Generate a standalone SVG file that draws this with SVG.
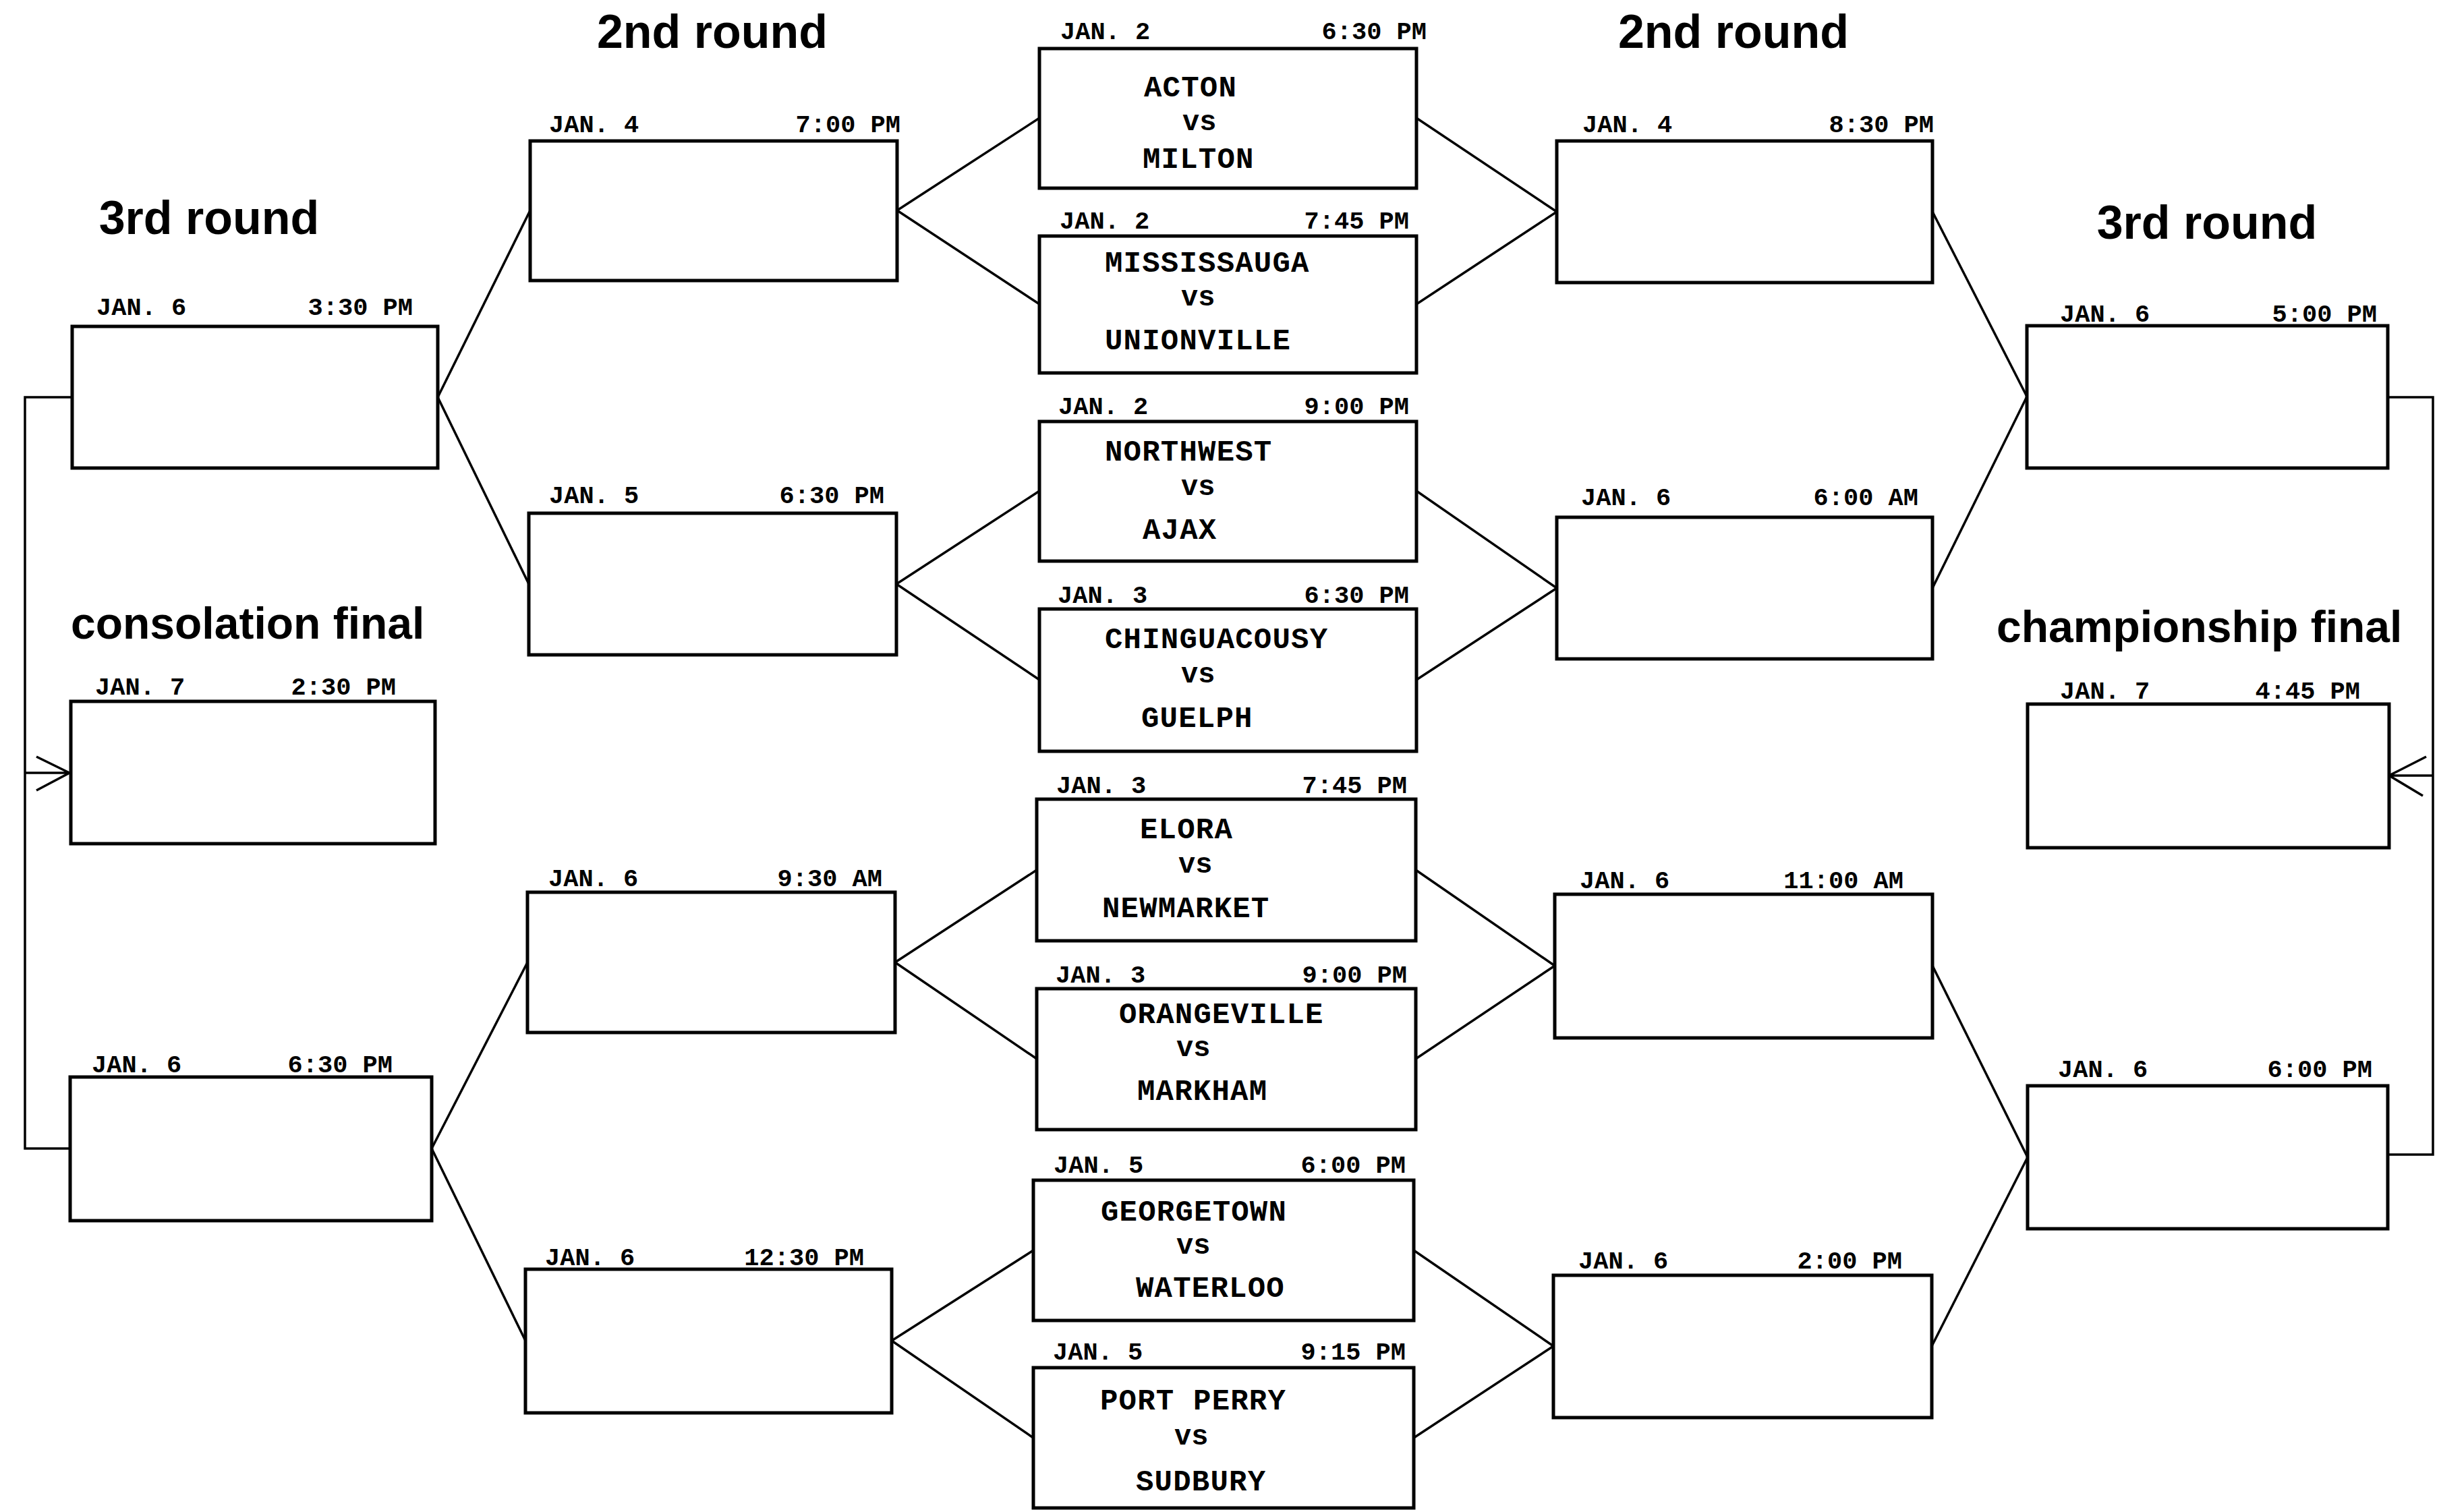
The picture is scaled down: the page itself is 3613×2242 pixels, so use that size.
<svg xmlns="http://www.w3.org/2000/svg" width="3613" height="2242" viewBox="0 0 3613 2242">
<style>
.bg{fill:#fff}
.box{fill:#fff;stroke:#000;stroke-width:5}
.ln{fill:none;stroke:#000;stroke-width:3.5;stroke-linejoin:miter}
.hd{font-family:"Liberation Sans",Arial,sans-serif;font-weight:bold;font-size:70px;fill:#000}
.fn{font-family:"Liberation Sans",Arial,sans-serif;font-weight:bold;font-size:66px;fill:#000}
.dt{font-family:"Liberation Mono","Courier New",monospace;font-weight:bold;font-size:37px;fill:#000}
.tm{font-family:"Liberation Mono","Courier New",monospace;font-weight:bold;font-size:37px;fill:#000;text-anchor:end}
.tn{font-family:"Liberation Mono","Courier New",monospace;font-weight:bold;font-size:44px;letter-spacing:1.2px;fill:#000}
.vs{font-family:"Liberation Mono","Courier New",monospace;font-weight:bold;font-size:42px;fill:#000}
</style>
<rect class="bg" x="0" y="0" width="3613" height="2242"/>

<g id="headers">
<text class="hd" x="1056" y="71" text-anchor="middle">2nd round</text>
<text class="hd" x="2570" y="71" text-anchor="middle">2nd round</text>
<text class="hd" x="310" y="347" text-anchor="middle" font-size="72">3rd round</text>
<text class="hd" x="3272" y="354" text-anchor="middle" font-size="72">3rd round</text>
<text class="fn" x="105" y="947">consolation final</text>
<text class="fn" x="2960" y="952">championship final</text>
</g>

<g id="connectors">
<line class="ln" x1="1330" y1="312" x2="1541" y2="175"/>
<line class="ln" x1="1330" y1="312" x2="1541" y2="451"/>
<line class="ln" x1="1329" y1="866" x2="1541" y2="728"/>
<line class="ln" x1="1329" y1="866" x2="1541" y2="1008"/>
<line class="ln" x1="1327" y1="1427" x2="1537" y2="1290"/>
<line class="ln" x1="1327" y1="1427" x2="1537" y2="1570"/>
<line class="ln" x1="1322" y1="1988" x2="1532" y2="1854"/>
<line class="ln" x1="1322" y1="1988" x2="1532" y2="2132"/>
<line class="ln" x1="649" y1="589" x2="786" y2="312"/>
<line class="ln" x1="649" y1="589" x2="784" y2="866"/>
<line class="ln" x1="640" y1="1703" x2="782" y2="1427"/>
<line class="ln" x1="640" y1="1703" x2="779" y2="1988"/>
<line class="ln" x1="2308" y1="314" x2="2100" y2="175"/>
<line class="ln" x1="2308" y1="314" x2="2100" y2="451"/>
<line class="ln" x1="2308" y1="872" x2="2100" y2="728"/>
<line class="ln" x1="2308" y1="872" x2="2100" y2="1008"/>
<line class="ln" x1="2305" y1="1432" x2="2099" y2="1290"/>
<line class="ln" x1="2305" y1="1432" x2="2099" y2="1570"/>
<line class="ln" x1="2303" y1="1996" x2="2096" y2="1854"/>
<line class="ln" x1="2303" y1="1996" x2="2096" y2="2132"/>
<line class="ln" x1="3005" y1="588" x2="2865" y2="314"/>
<line class="ln" x1="3005" y1="588" x2="2865" y2="872"/>
<line class="ln" x1="3006" y1="1716" x2="2865" y2="1432"/>
<line class="ln" x1="3006" y1="1716" x2="2864" y2="1996"/>
<path class="ln" d="M107,589 H37 V1703 H104" stroke-width="5"/>
<path class="ln" d="M37,1146 H103 M54,1122 L103,1146 L54,1172" stroke-width="5"/>
<path class="ln" d="M3540,589 H3607 V1712 H3540" stroke-width="5"/>
<path class="ln" d="M3607,1150 H3542 M3597,1122 L3542,1150 L3592,1180" stroke-width="5"/>
</g>

<g id="l3a"><rect class="box" x="107" y="484" width="542" height="210"/>
<text class="dt" x="143" y="467">JAN. 6</text><text class="tm" x="612" y="467">3:30 PM</text></g>
<g id="consolation"><rect class="box" x="105" y="1040" width="540" height="211"/>
<text class="dt" x="141" y="1030">JAN. 7</text><text class="tm" x="587" y="1030">2:30 PM</text></g>
<g id="l3b"><rect class="box" x="104" y="1597" width="536" height="213"/>
<text class="dt" x="136" y="1590">JAN. 6</text><text class="tm" x="582" y="1590">6:30 PM</text></g>

<g id="l2a"><rect class="box" x="786" y="209" width="544" height="207"/>
<text class="dt" x="814" y="196">JAN. 4</text><text class="tm" x="1335" y="196">7:00 PM</text></g>
<g id="l2b"><rect class="box" x="784" y="761" width="545" height="210"/>
<text class="dt" x="814" y="746">JAN. 5</text><text class="tm" x="1311" y="746">6:30 PM</text></g>
<g id="l2c"><rect class="box" x="782" y="1323" width="545" height="208"/>
<text class="dt" x="813" y="1314">JAN. 6</text><text class="tm" x="1308" y="1314">9:30 AM</text></g>
<g id="l2d"><rect class="box" x="779" y="1882" width="543" height="213"/>
<text class="dt" x="808" y="1876">JAN. 6</text><text class="tm" x="1281" y="1876">12:30 PM</text></g>

<g id="c1"><rect class="box" x="1541" y="72" width="559" height="207"/>
<text class="dt" x="1572" y="58">JAN. 2</text><text class="tm" x="2115" y="58">6:30 PM</text>
<text class="tn" x="1696" y="143">ACTON</text><text class="vs" x="1753" y="193">vs</text><text class="tn" x="1694" y="249">MILTON</text></g>
<g id="c2"><rect class="box" x="1541" y="350" width="559" height="203"/>
<text class="dt" x="1571" y="339">JAN. 2</text><text class="tm" x="2089" y="339">7:45 PM</text>
<text class="tn" x="1638" y="403">MISSISSAUGA</text><text class="vs" x="1751" y="453">vs</text><text class="tn" x="1638" y="518">UNIONVILLE</text></g>
<g id="c3"><rect class="box" x="1541" y="625" width="559" height="207"/>
<text class="dt" x="1569" y="614">JAN. 2</text><text class="tm" x="2089" y="614">9:00 PM</text>
<text class="tn" x="1638" y="683">NORTHWEST</text><text class="vs" x="1751" y="734">vs</text><text class="tn" x="1694" y="799">AJAX</text></g>
<g id="c4"><rect class="box" x="1541" y="903" width="559" height="211"/>
<text class="dt" x="1568" y="894">JAN. 3</text><text class="tm" x="2089" y="894">6:30 PM</text>
<text class="tn" x="1638" y="961">CHINGUACOUSY</text><text class="vs" x="1751" y="1012">vs</text><text class="tn" x="1692" y="1078">GUELPH</text></g>
<g id="c5"><rect class="box" x="1537" y="1185" width="562" height="210"/>
<text class="dt" x="1566" y="1176">JAN. 3</text><text class="tm" x="2086" y="1176">7:45 PM</text>
<text class="tn" x="1690" y="1243">ELORA</text><text class="vs" x="1747" y="1294">vs</text><text class="tn" x="1634" y="1360">NEWMARKET</text></g>
<g id="c6"><rect class="box" x="1537" y="1466" width="562" height="209"/>
<text class="dt" x="1565" y="1457">JAN. 3</text><text class="tm" x="2086" y="1457">9:00 PM</text>
<text class="tn" x="1659" y="1517">ORANGEVILLE</text><text class="vs" x="1744" y="1566">vs</text><text class="tn" x="1686" y="1631">MARKHAM</text></g>
<g id="c7"><rect class="box" x="1532" y="1750" width="564" height="208"/>
<text class="dt" x="1562" y="1739">JAN. 5</text><text class="tm" x="2084" y="1739">6:00 PM</text>
<text class="tn" x="1632" y="1810">GEORGETOWN</text><text class="vs" x="1744" y="1859">vs</text><text class="tn" x="1684" y="1923">WATERLOO</text></g>
<g id="c8"><rect class="box" x="1532" y="2028" width="564" height="208"/>
<text class="dt" x="1561" y="2016">JAN. 5</text><text class="tm" x="2084" y="2016">9:15 PM</text>
<text class="tn" x="1631" y="2090">PORT PERRY</text><text class="vs" x="1741" y="2142">vs</text><text class="tn" x="1684" y="2210">SUDBURY</text></g>

<g id="r2a"><rect class="box" x="2308" y="209" width="557" height="210"/>
<text class="dt" x="2346" y="196">JAN. 4</text><text class="tm" x="2867" y="196">8:30 PM</text></g>
<g id="r2b"><rect class="box" x="2308" y="767" width="557" height="210"/>
<text class="dt" x="2344" y="749">JAN. 6</text><text class="tm" x="2844" y="749">6:00 AM</text></g>
<g id="r2c"><rect class="box" x="2305" y="1326" width="560" height="213"/>
<text class="dt" x="2342" y="1317">JAN. 6</text><text class="tm" x="2822" y="1317">11:00 AM</text></g>
<g id="r2d"><rect class="box" x="2303" y="1891" width="561" height="211"/>
<text class="dt" x="2340" y="1881">JAN. 6</text><text class="tm" x="2820" y="1881">2:00 PM</text></g>

<g id="r3a"><rect class="box" x="3005" y="483" width="535" height="211"/>
<text class="dt" x="3054" y="477">JAN. 6</text><text class="tm" x="3524" y="477">5:00 PM</text></g>
<g id="championship"><rect class="box" x="3006" y="1044" width="536" height="213"/>
<text class="dt" x="3054" y="1036">JAN. 7</text><text class="tm" x="3499" y="1036">4:45 PM</text></g>
<g id="r3b"><rect class="box" x="3006" y="1610" width="534" height="212"/>
<text class="dt" x="3051" y="1597">JAN. 6</text><text class="tm" x="3517" y="1597">6:00 PM</text></g>
</svg>
